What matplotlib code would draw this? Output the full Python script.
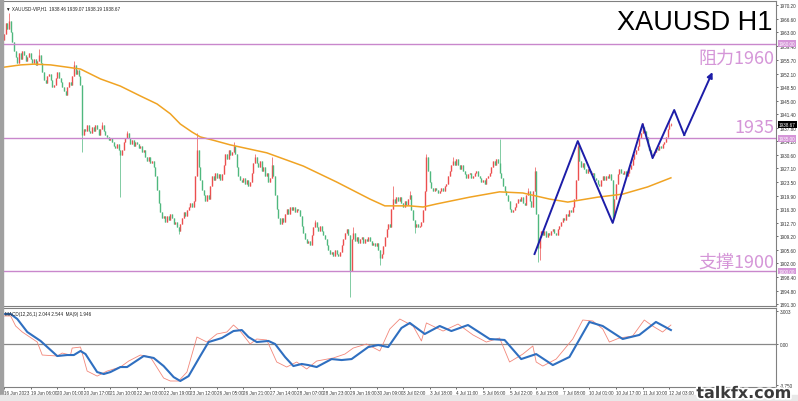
import numpy as np
import matplotlib.pyplot as plt
import matplotlib.patheffects as pe

plt.rcParams['font.family'] = ['Liberation Sans', 'DejaVu Sans']

# ---- values (H1 bars, 16 Jun - 12 Jul 2023) ----
first_open = 1961.0
closes = [
    1962.5, 1965.5, 1964.0, 1966.0, 1963.0, 1960.5, 1958.0, 1956.5, 1955.0, 1957.5,
    1956.0, 1958.0, 1957.0, 1955.5, 1956.5, 1957.5, 1956.0, 1955.0, 1956.0, 1954.5,
    1955.5, 1957.0, 1955.0, 1952.5, 1950.5, 1949.5, 1951.5, 1952.0, 1950.5, 1948.5,
    1949.0, 1951.0, 1952.5, 1951.0, 1950.0, 1948.5, 1947.5, 1946.5, 1948.5, 1950.0,
    1949.0, 1951.5, 1954.5, 1952.0, 1953.0, 1951.5, 1949.0, 1936.0, 1937.5, 1937.0,
    1938.5, 1937.0, 1936.5, 1938.0, 1937.0, 1938.5, 1937.5, 1936.0, 1937.5, 1938.5,
    1937.0, 1936.0, 1935.5, 1934.5, 1935.0, 1934.0, 1933.0, 1932.5, 1933.5, 1932.0,
    1930.5, 1932.0, 1934.0, 1935.0, 1936.5, 1935.0, 1933.5, 1934.5, 1933.0, 1934.0,
    1933.5, 1932.5, 1933.0, 1931.5, 1932.0, 1930.0, 1929.0, 1930.0, 1928.5, 1929.0,
    1927.5, 1925.0, 1921.5, 1918.0, 1915.5, 1914.0, 1914.5, 1913.0, 1914.5, 1913.5,
    1915.0, 1914.0, 1912.5, 1913.0, 1911.5, 1910.5, 1912.5, 1914.0, 1915.5, 1914.5,
    1916.0, 1917.0, 1918.0, 1917.0, 1918.5, 1925.0, 1932.0, 1927.5, 1924.0, 1921.5,
    1920.0, 1918.5, 1920.0, 1919.0, 1922.5, 1925.0, 1924.0, 1926.0, 1924.5, 1925.5,
    1924.0, 1925.5, 1928.0, 1931.0, 1929.5, 1932.0, 1930.5, 1931.5, 1933.0, 1931.0,
    1927.5, 1925.0, 1924.0, 1923.5, 1924.5, 1923.0, 1924.0, 1922.5, 1923.5, 1926.0,
    1928.5, 1930.0, 1928.5, 1927.5, 1929.0, 1926.5, 1927.5, 1925.0, 1926.0, 1923.5,
    1924.5, 1928.0, 1925.0, 1920.0, 1916.5, 1914.0, 1912.5, 1914.0, 1913.0, 1915.0,
    1916.5, 1915.0, 1917.0, 1916.0, 1917.0, 1915.5, 1916.5, 1916.0, 1914.5, 1912.0,
    1910.0, 1908.5, 1907.5, 1908.0, 1907.0, 1909.5, 1911.5, 1913.0, 1911.5, 1910.5,
    1912.0, 1910.5, 1909.5, 1908.5, 1907.0, 1905.5, 1904.5, 1905.0, 1904.0, 1905.5,
    1904.5, 1904.0, 1905.0, 1907.0, 1908.5, 1910.0, 1911.0, 1909.5, 1900.0, 1908.5,
    1910.0, 1908.0, 1909.0, 1907.5, 1908.5, 1909.0, 1907.5, 1908.5, 1908.0, 1909.0,
    1908.0, 1907.0, 1907.5, 1906.5, 1907.5, 1905.5, 1903.5, 1904.5, 1906.5, 1909.0,
    1911.0, 1912.5, 1911.5, 1916.5, 1919.0, 1918.0, 1919.5, 1918.5, 1919.5, 1918.0,
    1917.0, 1918.5, 1917.5, 1919.0, 1920.0, 1916.0, 1913.5, 1911.5, 1912.5, 1911.5,
    1912.0, 1913.0, 1916.0, 1921.0, 1930.0, 1926.5, 1923.5, 1922.0, 1921.0, 1922.0,
    1921.5, 1920.5, 1921.0, 1922.0, 1921.0, 1922.5, 1923.0, 1925.0, 1926.5, 1928.0,
    1929.0, 1928.0, 1929.5, 1928.0, 1927.0, 1928.0, 1926.5, 1925.5, 1924.5, 1925.5,
    1926.0, 1924.5, 1925.0, 1926.0, 1926.5, 1925.0, 1924.5, 1923.5, 1924.0, 1923.0,
    1924.5, 1925.0, 1926.0, 1927.5, 1929.0, 1928.0, 1929.5, 1928.5, 1926.0, 1924.5,
    1922.5, 1921.0, 1920.0, 1918.5, 1916.5, 1915.5, 1916.0, 1917.0, 1918.0, 1919.0,
    1918.5, 1919.5, 1918.0, 1917.5, 1920.0, 1921.0, 1918.5, 1917.0, 1921.0, 1926.5,
    1915.0, 1906.0, 1909.0, 1910.5, 1909.5, 1910.5, 1909.0, 1910.0, 1909.5, 1910.5,
    1911.0, 1910.0, 1909.5, 1911.0, 1912.0, 1913.0, 1914.0, 1913.5, 1915.0, 1914.5,
    1916.0, 1915.5, 1917.0, 1919.0, 1924.0, 1933.0, 1929.0, 1927.5, 1928.5, 1927.0,
    1926.0, 1927.0, 1926.5, 1925.5, 1926.0, 1924.5, 1924.0, 1923.0, 1922.5, 1924.0,
    1925.0, 1924.0, 1925.0, 1924.5, 1925.5, 1924.0, 1914.0, 1919.0, 1923.0, 1925.5,
    1927.0, 1926.0, 1925.5, 1926.5, 1925.0, 1926.0, 1927.0, 1928.0, 1929.5, 1931.0,
    1932.0, 1933.0, 1935.0, 1936.5, 1938.0, 1937.0, 1935.5, 1933.0, 1932.0, 1931.0,
    1930.5, 1931.5, 1932.5, 1932.0, 1933.0, 1932.5, 1933.5, 1934.0, 1935.5, 1937.5,
    1938.46, 1938.67,
]
wick_high = {3: 1968.0, 21: 1958.6, 42: 1955.5, 59: 1939.3, 74: 1937.0, 116: 1936.3,
             138: 1934.0, 151: 1931.0, 161: 1930.0, 187: 1913.5, 210: 1911.5,
             234: 1922.5, 244: 1921.0, 254: 1931.0, 270: 1930.2, 298: 1934.8,
             315: 1922.0, 319: 1927.5, 345: 1934.0, 384: 1939.0, 400: 1939.5,
             401: 1939.07}
wick_low = {47: 1931.5, 70: 1919.5, 105: 1909.8, 208: 1893.2, 226: 1901.5,
            247: 1910.0, 321: 1902.5, 322: 1903.0, 366: 1913.0, 401: 1938.19}

# moving average (orange)
ma_bar = [0, 10, 18, 28, 38, 46, 58, 70, 82, 92, 100, 106, 113, 118, 126, 136, 158,
          180, 200, 220, 229, 244, 252, 260, 280, 298, 312, 320, 328, 339, 357,
          372, 387, 401]
ma_val = [1953.8, 1954.4, 1954.6, 1954.4, 1953.8, 1953.3, 1950.7, 1948.8, 1946.2,
          1944.1, 1941.5, 1938.8, 1936.7, 1935.4, 1934.5, 1933.3, 1931.2, 1927.7,
          1923.5, 1919.0, 1917.2, 1917.2, 1916.9, 1917.7, 1919.5, 1920.9, 1920.6,
          1919.8, 1919.0, 1918.2, 1919.5, 1920.3, 1922.2, 1924.6]

# MACD panel: thin red line and thick blue MA(9)
macd_bar = [0, 4, 7, 11, 20, 23, 32, 35, 40, 41, 46, 50, 56, 62, 70, 75, 82, 88, 96,
            100, 105, 110, 116, 122, 128, 134, 138, 142, 148, 152, 158, 164, 170,
            176, 182, 188, 198, 205, 210, 218, 226, 232, 238, 246, 251, 254, 264,
            273, 282, 290, 298, 304, 312, 318, 320, 324, 332, 342, 348, 354, 360,
            364, 370, 378, 385, 390, 396, 401]
macd_val = [2.57, 2.57, 1.65, 1.10, 0.18, -1.01, -1.10, -0.83, -1.01, -0.37, -0.28,
            -2.48, -2.94, -2.48, -2.11, -1.56, -1.01, -1.19, -3.12, -3.39, -3.39,
            -2.57, 0.64, 0.18, 0.92, 1.10, 1.74, 1.19, 0.0, 0.46, 0.37, -1.65,
            -2.11, -1.65, -2.29, -1.56, -1.28, -0.92, -0.37, 0.0, -0.64, 1.38, 2.29,
            1.65, 0.28, 1.93, 1.19, 1.83, 0.83, 0.18, 0.55, -1.65, -0.92, -0.18,
            -1.65, -2.02, -1.38, 0.46, 2.20, 2.11, 1.38, 0.18, 0.55, 0.73, 2.20,
            1.65, 1.10, 1.74]
signal_bar = [0, 4, 8, 14, 22, 32, 38, 42, 46, 49, 56, 60, 64, 70, 74, 84, 90, 96,
              102, 106, 111, 118, 123, 131, 138, 143, 147, 152, 159, 163, 169, 174,
              179, 183, 188, 197, 203, 209, 219, 225, 231, 239, 244, 253, 262, 269,
              279, 292, 301, 311, 320, 330, 340, 352, 360, 372, 382, 392, 401]
signal_val = [2.75, 2.75, 2.29, 1.10, 0.28, -1.10, -1.01, -1.01, -0.64, -0.92,
              -2.57, -2.75, -2.57, -2.11, -2.11, -1.10, -1.28, -2.02, -3.03, -3.39,
              -2.94, -1.10, 0.18, 0.55, 1.19, 1.28, 0.64, 0.18, 0.28, 0.0, -1.19,
              -2.02, -1.83, -1.93, -2.11, -1.38, -1.47, -1.38, -0.28, -0.09, -0.28,
              1.47, 1.93, 0.92, 1.65, 1.19, 1.74, 0.46, 0.37, -1.38, -0.92, -1.93,
              -1.19, 2.02, 1.65, 0.46, 0.83, 2.02, 1.28]

# hand-drawn wave projection (blue)
wave_bar = [319, 345, 366, 384, 390, 403, 409, 426]
wave_price = [1904.5, 1934.3, 1912.7, 1938.8, 1929.8, 1942.5, 1935.9, 1952.5]

levels = [1960.0, 1935.0, 1900.0]
level_text = ['阻力1960', '1935', '支撑1900']
level_text_y = [1956.2, 1938.0, 1902.5]

price_ticks = [1970.20, 1966.60, 1963.00, 1959.40, 1955.70, 1952.10, 1948.50,
               1945.00, 1941.40, 1937.80, 1934.20, 1930.60, 1927.10, 1923.50,
               1919.90, 1916.30, 1912.70, 1909.20, 1905.60, 1902.00, 1898.40,
               1894.80, 1891.30]
last_price = 1938.67
date_labels = ['16 Jun 2023', '19 Jun 06:00', '20 Jun 01:00', '20 Jun 17:00',
               '21 Jun 10:00', '22 Jun 03:00', '22 Jun 19:00', '23 Jun 12:00',
               '26 Jun 05:00', '26 Jun 21:00', '27 Jun 14:00', '28 Jun 07:00',
               '28 Jun 23:00', '29 Jun 16:00', '30 Jun 09:00', '3 Jul 02:00',
               '3 Jul 18:00', '4 Jul 11:00', '5 Jul 06:00', '5 Jul 22:00',
               '6 Jul 15:00', '7 Jul 08:00', '10 Jul 01:00', '10 Jul 17:00',
               '11 Jul 10:00', '12 Jul 03:00']
bars_per_label = 16

UP = '#ec4f4f'
DOWN = '#4fb87e'
PINK = '#d596d8'
LINE_PINK = '#c987cc'
SMALL = 3.3

fig = plt.figure(figsize=(7.98, 4.02), dpi=100)
W, H = 798, 402
ax = fig.add_axes([3 / W, 1 - 307 / H, 773 / W, 305 / H])
ax2 = fig.add_axes([3 / W, 1 - 388 / H, 773 / W, 79 / H])

# candles
c = np.array(closes)
o = np.concatenate([[first_open], c[:-1]])
idx = np.arange(len(c))
hi = np.maximum(o, c)
lo = np.minimum(o, c)
for k, v in wick_high.items():
    hi[k] = v
for k, v in wick_low.items():
    lo[k] = v
btm = np.minimum(o, c)
top = np.maximum(np.maximum(o, c), btm + 0.25)
up = c >= o
for mask, col in ((up, UP), (~up, DOWN)):
    ax.vlines(idx[mask], lo[mask], hi[mask], color=col, lw=0.5)
    ax.vlines(idx[mask], btm[mask], top[mask], color=col, lw=1.0)

ax.plot(ma_bar, ma_val, color='#f0a323', lw=1.1)

for lv in levels:
    ax.axhline(lv, color=LINE_PINK, lw=1.0)

ax.plot(wave_bar[:-1], wave_price[:-1], color='#1d1da8', lw=1.4)
ax.annotate('', xy=(wave_bar[-1], wave_price[-1]), xytext=(wave_bar[-2], wave_price[-2]),
            arrowprops=dict(arrowstyle='-|>', color='#1d1da8', lw=1.4,
                            mutation_scale=8, shrinkA=0, shrinkB=0))

# annotations
ax.text(0.9955, 0.975, 'XAUUSD H1', transform=ax.transAxes, ha='right', va='top',
        fontsize=19.5, color='black')
for txt, ty in zip(level_text, level_text_y):
    ax.text(0.9985, ty, txt, transform=ax.get_yaxis_transform(), ha='right',
            va='center', fontsize=13, color=PINK,
            family=['Noto Sans CJK SC', 'DejaVu Sans'])
ax.text(0.004, 0.985, '\u25bc XAUUSD-VIP,H1  1938.46 1939.07 1938.19 1938.67',
        transform=ax.transAxes, ha='left', va='top', fontsize=SMALL, color='#222222')

ax.set_xlim(-0.6, 464.2)
ax.set_ylim(1890.78, 1971.26)
ax.set_xticks([])
ax.yaxis.tick_right()
ax.set_yticks(price_ticks)
ax.set_yticklabels([f'{p:.2f}' for p in price_ticks])
ax.tick_params(axis='y', labelsize=SMALL, length=1.5, width=0.5, pad=1, colors='#333333')

yt = ax.get_yaxis_transform()
for lv in levels:
    ax.text(1.004, lv, f'{lv:.2f}', transform=yt, ha='left', va='center',
            fontsize=SMALL, color='white', zorder=5,
            bbox=dict(boxstyle='square,pad=0.15', fc=PINK, ec='none'))
ax.text(1.004, last_price, f'{last_price:.2f}', transform=yt, ha='left', va='center',
        fontsize=SMALL, color='white', zorder=5,
        bbox=dict(boxstyle='square,pad=0.15', fc='black', ec='none'))

# MACD panel
ax2.axhline(0, color='#888888', lw=0.9)
ax2.plot(macd_bar, macd_val, color='#f2877a', lw=0.6)
ax2.plot(signal_bar, signal_val, color='#2f6fc0', lw=1.5)
ax2.text(0.003, 0.96, 'MACD(12,26,1) 2.044 2.544  MA(9) 1.946', transform=ax2.transAxes,
         ha='left', va='top', fontsize=SMALL, color='#222222')
ax2.set_xlim(-0.6, 464.2)
ax2.set_ylim(-3.94, 3.30)
ax2.yaxis.tick_right()
ax2.set_yticks([3.003, 0.0, -3.75])
ax2.set_yticklabels(['3.003', '0.00', '-3.750'])
ax2.tick_params(axis='y', labelsize=SMALL, length=1.5, width=0.5, pad=1, colors='#333333')
ax2.set_xticks([k * bars_per_label for k in range(len(date_labels))])
ax2.set_xticklabels(date_labels, ha='left')
ax2.tick_params(axis='x', labelsize=SMALL, length=1.5, width=0.5, pad=1, colors='#333333')

for a in (ax, ax2):
    for s in a.spines.values():
        s.set_color('#808080')
        s.set_linewidth(0.8)
    a.spines['left'].set_visible(False)

# window frame
fig.patches.append(plt.Rectangle((0, 0), 3 / W, 1, transform=fig.transFigure,
                                 color='#a0a0a0', zorder=0))
fig.patches.append(plt.Rectangle((0, 0), 1, 6 / H, transform=fig.transFigure,
                                 color='#e8e8e8', zorder=0))

fig.text(744 / W, 1 - 394.5 / H, 'talkfx.com', ha='center', va='center', fontsize=11.5,
         fontweight='bold', family='DejaVu Sans', color='#3a3a3a', zorder=10,
         path_effects=[pe.withStroke(linewidth=2.5, foreground='white')])

fig.savefig('out.png', dpi=100)
